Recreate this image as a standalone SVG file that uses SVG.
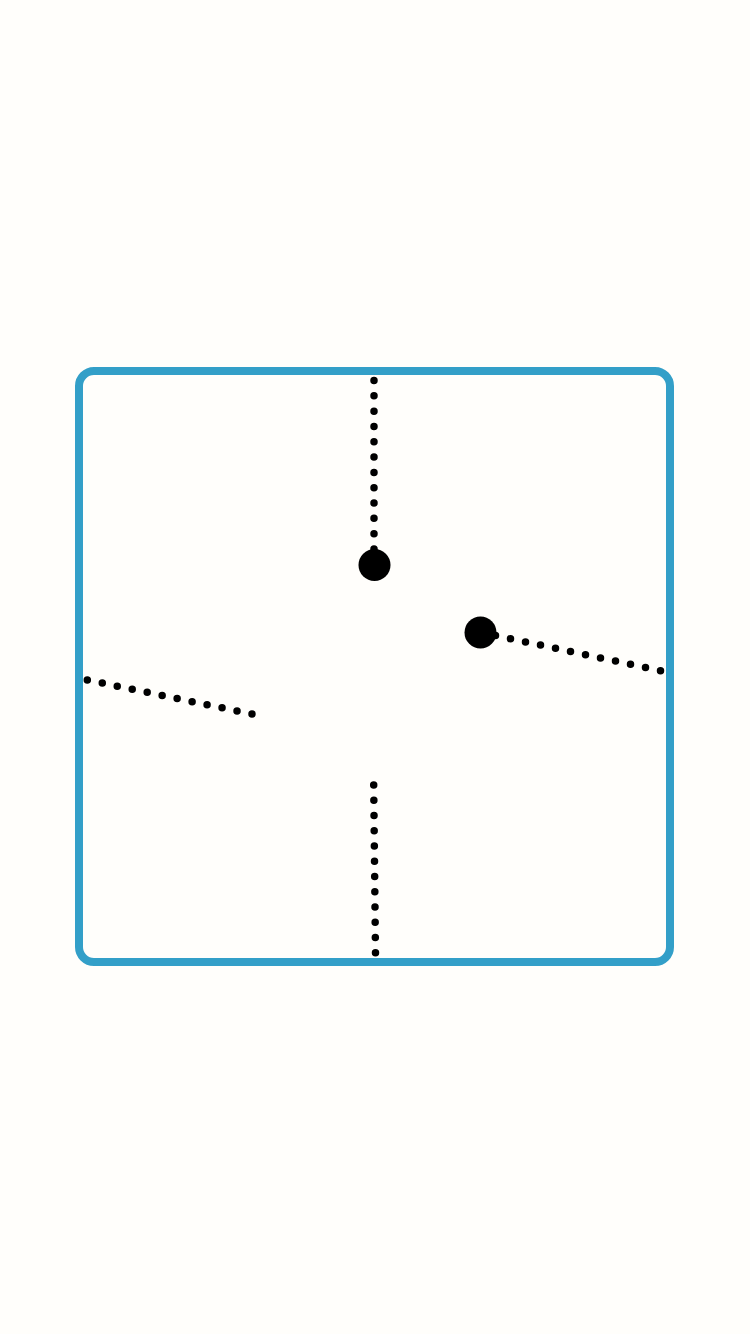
<svg xmlns="http://www.w3.org/2000/svg" width="750" height="1334" viewBox="0 0 750 1334">
<style>
.dots{fill:none;stroke:#000;stroke-width:7.5;stroke-linecap:round}
.ball{fill:#000}
</style>
<rect x="0" y="0" width="750" height="1334" fill="#fffefb"/>
<g id="frame">
<rect x="79" y="371" width="591" height="591" rx="15" ry="15" fill="#fffefb" stroke="#339fc8" stroke-width="8"/>
</g>
<g id="connectors">
<path class="dots" stroke-dasharray="0 15.318" d="M374,380.5 L374,550"/>
<path class="dots" stroke-dasharray="0 15.337" d="M495.5,635.5 L661.5,670.9"/>
<path class="dots" stroke-dasharray="0 15.288" d="M87.3,680 L253,714.2"/>
<path class="dots" stroke-dasharray="0 15.246" d="M373.7,785 L375.5,953.7"/>
</g>
<g id="node-top">
<circle class="ball" cx="374.5" cy="565" r="16"/>
</g>
<g id="node-right">
<circle class="ball" cx="480.5" cy="632.5" r="16"/>
</g>
</svg>
